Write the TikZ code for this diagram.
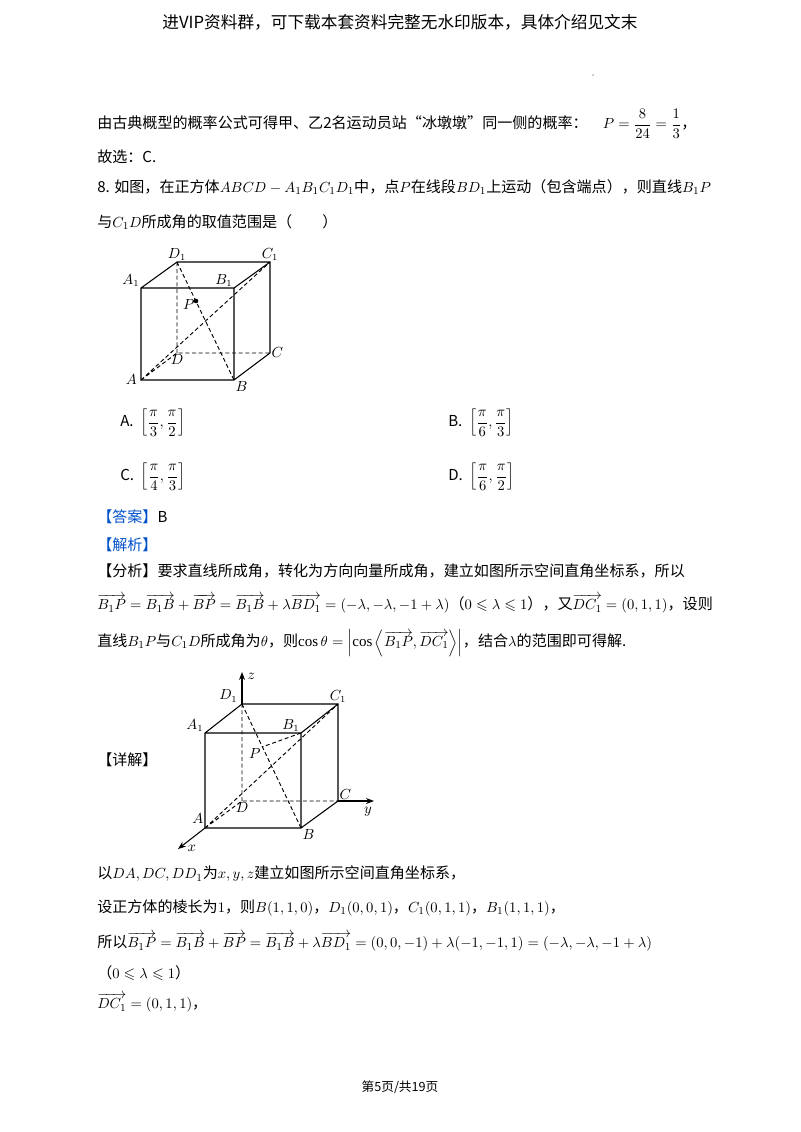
\documentclass[tikz,border=0pt]{standalone}
\usepackage{amsmath,amssymb}
\usepackage{fontspec}
\setmainfont{Liberation Serif}
\newfontfamily\cjk{Noto Sans CJK SC}
\usetikzlibrary{arrows.meta}
\newcommand{\vv}[1]{\overrightarrow{#1}}
\begin{document}
\begin{tikzpicture}[x=0.75pt,y=-0.75pt,
  txt/.style={anchor=west,inner sep=0pt,font=\fontsize{11.3}{13}\selectfont\cjk},
  hd/.style={txt,text=blue!60!cyan!80!black},
  edge/.style={line width=0.8pt},
  hid/.style={line width=0.7pt,dashed,dash pattern=on 3pt off 2pt},
  lab/.style={font=\fontsize{10.5}{12}\selectfont\itshape,inner sep=1pt}]
\useasboundingbox (0,0) rectangle (800,1132);
\fill[white] (0,0) rectangle (800,1132);
% header / footer
\node[font=\fontsize{12.5}{14}\selectfont\cjk] (hdr) at (400,22) {进VIP资料群，可下载本套资料完整无水印版本，具体介绍见文末};
\node[circle,fill=gray,inner sep=0.4pt] (dot) at (593,75) {};
\node[font=\fontsize{9.5}{11}\selectfont\cjk] (ftr) at (400,1087) {第5页/共19页};
% text
\node[txt] (l1) at (97,124) {由古典概型的概率公式可得甲、乙2名运动员站“冰墩墩”同一侧的概率：\quad$P=\dfrac{8}{24}=\dfrac{1}{3}$，};
\node[txt] (l2) at (97,157) {故选：C.};
\node[txt] (l3) at (97,187) {8. 如图，在正方体$ABCD-A_1B_1C_1D_1$中，点$P$在线段$BD_1$上运动（包含端点），则直线$B_1P$};
\node[txt] (l4) at (97,222) {与$C_1D$所成角的取值范围是（\qquad）};
\node[txt] (oa) at (120,423) {A.\ \ $\left[\dfrac{\pi}{3},\dfrac{\pi}{2}\right]$};
\node[txt] (ob) at (448,423) {B.\ \ $\left[\dfrac{\pi}{6},\dfrac{\pi}{3}\right]$};
\node[txt] (oc) at (120,477) {C.\ \ $\left[\dfrac{\pi}{4},\dfrac{\pi}{3}\right]$};
\node[txt] (od) at (448,477) {D.\ \ $\left[\dfrac{\pi}{6},\dfrac{\pi}{2}\right]$};
\node[hd] (ans) at (97,517) {【答案】\textcolor{black}{B}};
\node[hd] (jx) at (97,545) {【解析】};
\node[txt] (fx) at (97,571) {【分析】要求直线所成角，转化为方向向量所成角，建立如图所示空间直角坐标系，所以};
\node[txt] (fx2) at (97,604) {$\vv{B_1P}=\vv{B_1B}+\vv{BP}=\vv{B_1B}+\lambda\vv{BD_1}=(-\lambda,-\lambda,-1+\lambda)$（$0\leqslant\lambda\leqslant1$），又$\vv{DC_1}=(0,1,1)$，设则};
\node[txt] (fx3) at (97,643) {直线$B_1P$与$C_1D$所成角为$\theta$，则$\cos\theta=\left|\cos\left\langle\vv{B_1P},\vv{DC_1}\right\rangle\right|$，结合$\lambda$的范围即可得解.};
\node[txt] (xj) at (97,760) {【详解】};
\node[txt] (d1) at (97,874) {以$DA,DC,DD_1$为$x,y,z$建立如图所示空间直角坐标系，};
\node[txt] (d2) at (97,908) {设正方体的棱长为$1$，则$B(1,1,0)$，$D_1(0,0,1)$，$C_1(0,1,1)$，$B_1(1,1,1)$，};
\node[txt] (d3) at (97,942) {所以$\vv{B_1P}=\vv{B_1B}+\vv{BP}=\vv{B_1B}+\lambda\vv{BD_1}=(0,0,-1)+\lambda(-1,-1,1)=(-\lambda,-\lambda,-1+\lambda)$};
\node[txt] (d4) at (97,973) {（$0\leqslant\lambda\leqslant1$）};
\node[txt] (d5) at (97,1003) {$\vv{DC_1}=(0,1,1)$，};
% cube 1
\coordinate (A) at (141,380); \coordinate (B) at (234,380);
\coordinate (C) at (270,353); \coordinate (D) at (177,353);
\coordinate (A1) at (141,288); \coordinate (B1) at (234,288);
\coordinate (C1) at (270,262); \coordinate (D1) at (177,262);
\coordinate (P) at (196,301);
\draw[edge] (A)--(B)--(C)--(C1)--(D1)--(A1)--cycle (A1)--(B1)--(B) (B1)--(C1);
\draw[hid] (A)--(D)--(C) (D)--(D1) (D1)--(B) (A)--(C1);
\fill (P) circle (2.3);
\node[lab,anchor=east] at ([xshift=-2]A) {$A$};
\node[lab,anchor=north west] at (B) {$B$};
\node[lab,anchor=west] at (C) {$C$};
\node[lab,anchor=north] at (D) {$D$};
\node[lab,anchor=south east] at (A1) {$A_1$};
\node[lab,anchor=south east] at (B1) {$B_1$};
\node[lab,anchor=south] at (C1) {$C_1$};
\node[lab,anchor=south] at (D1) {$D_1$};
\node[lab,anchor=north east] at ([yshift=2]P) {$P$};
% cube 2
\begin{scope}
\coordinate (a) at (205,828); \coordinate (b) at (301,828);
\coordinate (c) at (338,801); \coordinate (d) at (242,801);
\coordinate (a1) at (205,733); \coordinate (b1) at (301,733);
\coordinate (c1) at (338,704); \coordinate (d1) at (242,704);
\coordinate (p) at (262,747);
\coordinate (zt) at (242,672); \coordinate (yt) at (374,801); \coordinate (xt) at (178,849);
\draw[edge] (a)--(b)--(c)--(c1)--(d1)--(a1)--cycle (a1)--(b1)--(b) (b1)--(c1);
\draw[hid] (a)--(d)--(c) (d)--(d1) (d1)--(b) (a)--(c1) (b1)--(p);
\draw[edge,-{Stealth[length=6pt]}] (d1)--(zt);
\draw[edge,-{Stealth[length=6pt]}] (c)--(yt);
\draw[edge,-{Stealth[length=6pt]}] (a)--(xt);
\node[lab,anchor=west] at (246,676) {$z$};
\node[lab,anchor=north] at (368,806) {$y$};
\node[lab,anchor=west] at (186,848) {$x$};
\node[lab,anchor=south east] at ([yshift=2]a) {$A$};
\node[lab,anchor=north west] at (b) {$B$};
\node[lab,anchor=south west] at (c) {$C$};
\node[lab,anchor=north] at (d) {$D$};
\node[lab,anchor=south east] at (a1) {$A_1$};
\node[lab,anchor=south east] at (b1) {$B_1$};
\node[lab,anchor=south] at (c1) {$C_1$};
\node[lab,anchor=east] at (239,696) {$D_1$};
\node[lab,anchor=north east] at (p) {$P$};
\end{scope}
\end{tikzpicture}
\end{document}
